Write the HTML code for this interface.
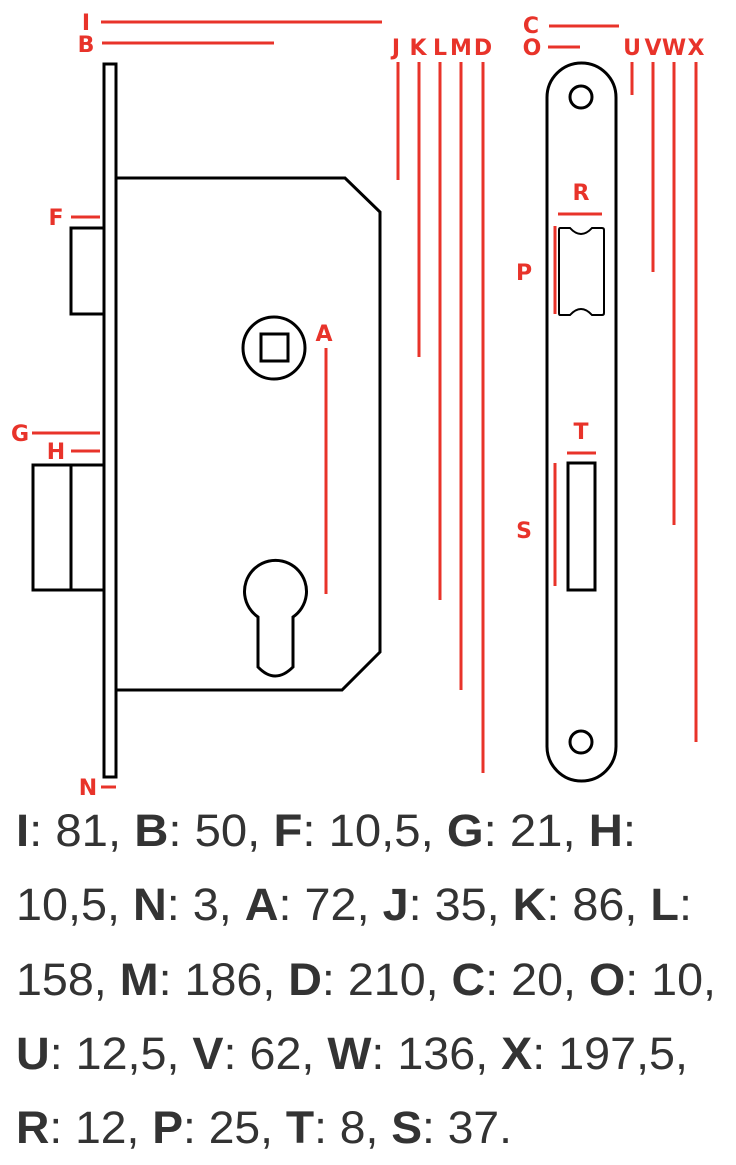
<!DOCTYPE html>
<html><head><style>html,body{margin:0;padding:0;background:#fff}svg{display:block}</style></head><body>
<svg width="736" height="1165" viewBox="0 0 736 1165" xmlns="http://www.w3.org/2000/svg">
<g fill="none" stroke="#000" stroke-width="3" stroke-linejoin="miter">
<rect x="104" y="64" width="12" height="713"/>
<path d="M116 178 H345 L380 212 V652 L342 690 H116"/>
<rect x="71" y="228" width="33" height="86"/>
<circle cx="274" cy="348" r="31"/>
<rect x="261" y="334" width="27" height="27"/>
<rect x="33" y="465" width="71" height="125"/>
<line x1="71" y1="465" x2="71" y2="590"/>
<path d="M258 617 A31 31 0 1 1 293 617 V667 Q275 685 258 667 Z"/>
<rect x="547" y="63" width="69" height="718" rx="34.5" ry="34.5"/>
<circle cx="581" cy="97" r="11"/>
<circle cx="581" cy="742" r="11"/>
<rect x="568" y="463" width="27" height="127"/>
</g>
<path d="M560 228 H570 Q581 240 592 228 H602 Q604 228 604 230 V313 Q604 315 602 315 H592 Q581 303 570 315 H560 Q559 315 559 313 V230 Q559 228 560 228 Z" fill="none" stroke="#000" stroke-width="2"/>
<g stroke="#e8332a" stroke-width="3">
<line x1="101" y1="22" x2="382" y2="22"/>
<line x1="102" y1="43" x2="274" y2="43"/>
<line x1="71" y1="217" x2="100" y2="217"/>
<line x1="32" y1="433" x2="100" y2="433"/>
<line x1="71" y1="451" x2="100" y2="451"/>
<line x1="101" y1="787" x2="116" y2="787"/>
<line x1="326" y1="348" x2="326" y2="594"/>
<line x1="398" y1="62" x2="398" y2="180"/>
<line x1="419" y1="62" x2="419" y2="357"/>
<line x1="440" y1="62" x2="440" y2="600"/>
<line x1="461" y1="62" x2="461" y2="690"/>
<line x1="483" y1="62" x2="483" y2="773"/>
<line x1="549" y1="26" x2="619" y2="26"/>
<line x1="548" y1="47" x2="580" y2="47"/>
<line x1="632" y1="62" x2="632" y2="95"/>
<line x1="653" y1="62" x2="653" y2="272"/>
<line x1="674" y1="62" x2="674" y2="525"/>
<line x1="696" y1="62" x2="696" y2="742"/>
<line x1="558" y1="214" x2="602" y2="214"/>
<line x1="555" y1="226" x2="555" y2="314"/>
<line x1="567" y1="453" x2="596" y2="453"/>
<line x1="555" y1="463" x2="555" y2="586"/>
</g>
<g fill="#e8332a" font-family="DejaVu Sans, Liberation Sans, sans-serif" font-weight="bold" font-size="22" text-anchor="middle">
<text x="86" y="30">I</text>
<text x="86" y="52">B</text>
<text x="56" y="225">F</text>
<text x="20" y="441">G</text>
<text x="56" y="459">H</text>
<text x="88" y="795">N</text>
<text x="324" y="341">A</text>
<text x="396" y="55">J</text>
<text x="418" y="55">K</text>
<text x="440" y="55">L</text>
<text x="461" y="55">M</text>
<text x="483" y="55">D</text>
<text x="531" y="33">C</text>
<text x="532" y="55">O</text>
<text x="632" y="55">U</text>
<text x="653" y="55">V</text>
<text x="674" y="55">W</text>
<text x="696" y="55">X</text>
<text x="581" y="200">R</text>
<text x="524" y="280">P</text>
<text x="581" y="439">T</text>
<text x="524" y="538">S</text>
</g>
<g fill="#333" font-family="Liberation Sans, DejaVu Sans, sans-serif" font-size="45">
<text x="16" y="846" textLength="620" lengthAdjust="spacingAndGlyphs"><tspan font-weight="bold">I</tspan>: 81, <tspan font-weight="bold">B</tspan>: 50, <tspan font-weight="bold">F</tspan>: 10,5, <tspan font-weight="bold">G</tspan>: 21, <tspan font-weight="bold">H</tspan>:</text>
<text x="16" y="920" textLength="676" lengthAdjust="spacingAndGlyphs">10,5, <tspan font-weight="bold">N</tspan>: 3, <tspan font-weight="bold">A</tspan>: 72, <tspan font-weight="bold">J</tspan>: 35, <tspan font-weight="bold">K</tspan>: 86, <tspan font-weight="bold">L</tspan>:</text>
<text x="16" y="995" textLength="700" lengthAdjust="spacingAndGlyphs">158, <tspan font-weight="bold">M</tspan>: 186, <tspan font-weight="bold">D</tspan>: 210, <tspan font-weight="bold">C</tspan>: 20, <tspan font-weight="bold">O</tspan>: 10,</text>
<text x="16" y="1069" textLength="672" lengthAdjust="spacingAndGlyphs"><tspan font-weight="bold">U</tspan>: 12,5, <tspan font-weight="bold">V</tspan>: 62, <tspan font-weight="bold">W</tspan>: 136, <tspan font-weight="bold">X</tspan>: 197,5,</text>
<text x="16" y="1143" textLength="496" lengthAdjust="spacingAndGlyphs"><tspan font-weight="bold">R</tspan>: 12, <tspan font-weight="bold">P</tspan>: 25, <tspan font-weight="bold">T</tspan>: 8, <tspan font-weight="bold">S</tspan>: 37.</text>
</g>
</svg>
</body></html>
